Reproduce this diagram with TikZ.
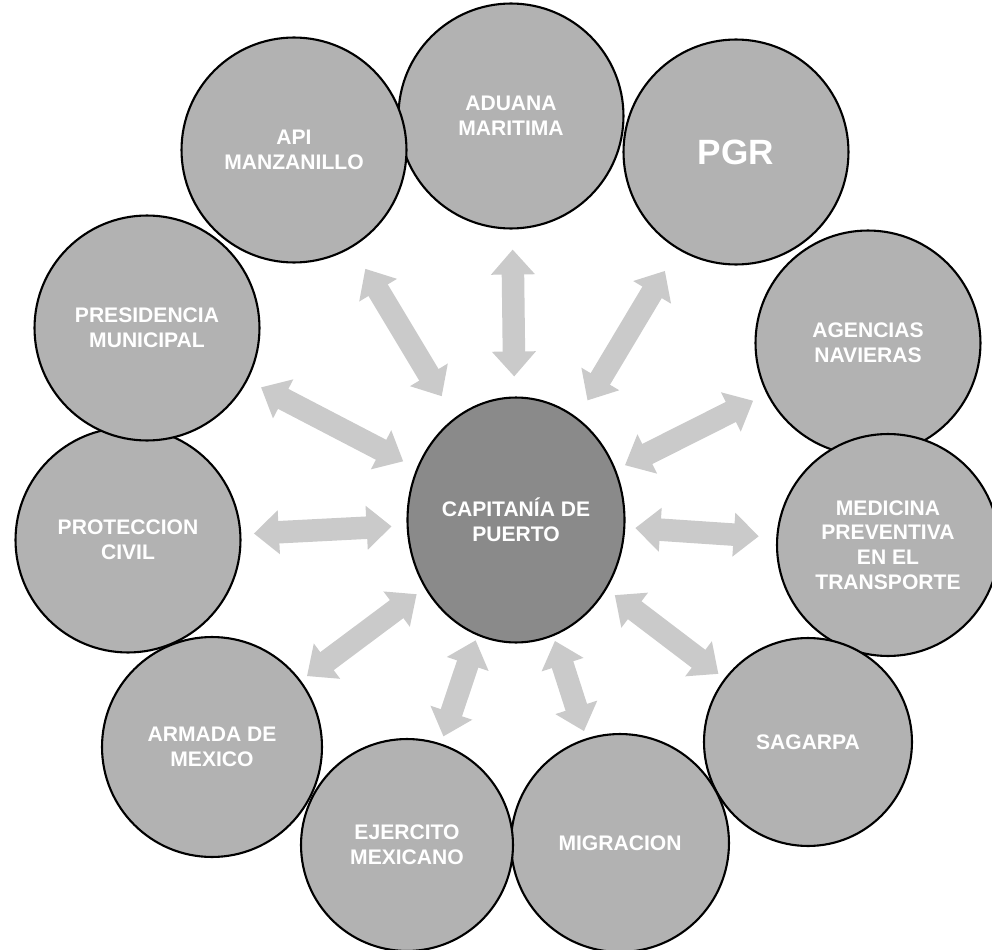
\documentclass[tikz,border=0pt]{standalone}
\usepackage{fontspec}
\setsansfont{Liberation Sans}
\usetikzlibrary{arrows.meta,shapes.geometric,positioning}

\definecolor{orggray}{RGB}{178,178,178}
\definecolor{capgray}{RGB}{138,138,138}
\definecolor{arrowgray}{RGB}{202,202,202}

\begin{document}
\begin{tikzpicture}
[x=0.02cm, y=-0.02cm, font=\sffamily\bfseries\fontsize{12}{14}\selectfont,
% STYLES
% Each office that works with the port captaincy
org/.style={circle, draw, line width=1.2pt, fill=orggray, text=white, align=center, inner sep=0pt, minimum size=4.5cm},
% The captaincy itself sits in the middle
capitania/.style={ellipse, draw, line width=1.2pt, fill=capgray, text=white, align=center, inner sep=0pt, minimum width=4.34cm, minimum height=4.9cm},
% Wide double arrows between the middle and each office
link/.style={line width=0.45cm, color=arrowgray, {Triangle[width=0.85cm,length=0.5cm,fill=arrowgray]}-{Triangle[width=0.85cm,length=0.5cm,fill=arrowgray]}, shorten <=0.4cm, shorten >=0.4cm}]

\useasboundingbox (0,0) rectangle (992,950);

% Middle
\node [capitania] (capitania) at (516, 520) {CAPITAN\'IA DE\\PUERTO};

% Offices, clockwise from the top
\node [org] (aduana) at (511, 116) {ADUANA\\MARITIMA};
\node [org] (pgr) at (736, 152) {\fontsize{20}{24}\selectfont PGR};
\node [org] (agencias) at (868, 343) {AGENCIAS\\NAVIERAS};
\node [org, minimum size=4.44cm] (medicina) at (888, 545) {MEDICINA\\PREVENTIVA\\EN EL\\TRANSPORTE};
\node [org, minimum size=4.16cm] (sagarpa) at (808, 742) {SAGARPA};
\node [org, minimum size=4.36cm] (migracion) at (620, 843) {MIGRACION};
\node [org, minimum size=4.24cm] (ejercito) at (407, 845) {EJERCITO\\MEXICANO};
\node [org, minimum size=4.4cm] (armada) at (212, 747) {ARMADA DE\\MEXICO};
\node [org] (proteccion) at (128, 540) {PROTECCION\\CIVIL};
\node [org] (presidencia) at (147, 328) {PRESIDENCIA\\MUNICIPAL};
\node [org] (api) at (294, 150) {API\\MANZANILLO};

%%%%%%%%%%%%%%%%

\path[link]
(capitania) edge (aduana)
(capitania) edge[shorten >=0.5cm] (pgr)
(capitania) edge[shorten <=0.2cm, shorten >=0.3cm] (agencias)
(capitania) edge[shorten <=0.2cm, shorten >=0.35cm] (medicina)
(capitania) edge[shorten <=0.2cm, shorten >=0.15cm] (sagarpa)
(capitania) edge[shorten <=0.1cm, shorten >=0.15cm] (migracion)
(capitania) edge[shorten <=0.1cm, shorten >=0.15cm] (ejercito)
(capitania) edge[shorten <=0.2cm, shorten >=0.15cm] (armada)
(capitania) edge[shorten <=0.3cm, shorten >=0.25cm] (proteccion)
(capitania) edge[shorten <=0.3cm, shorten >=0.3cm] (presidencia)
(capitania) edge[shorten <=0.5cm, shorten >=0.5cm] (api);

\end{tikzpicture}
\end{document}
